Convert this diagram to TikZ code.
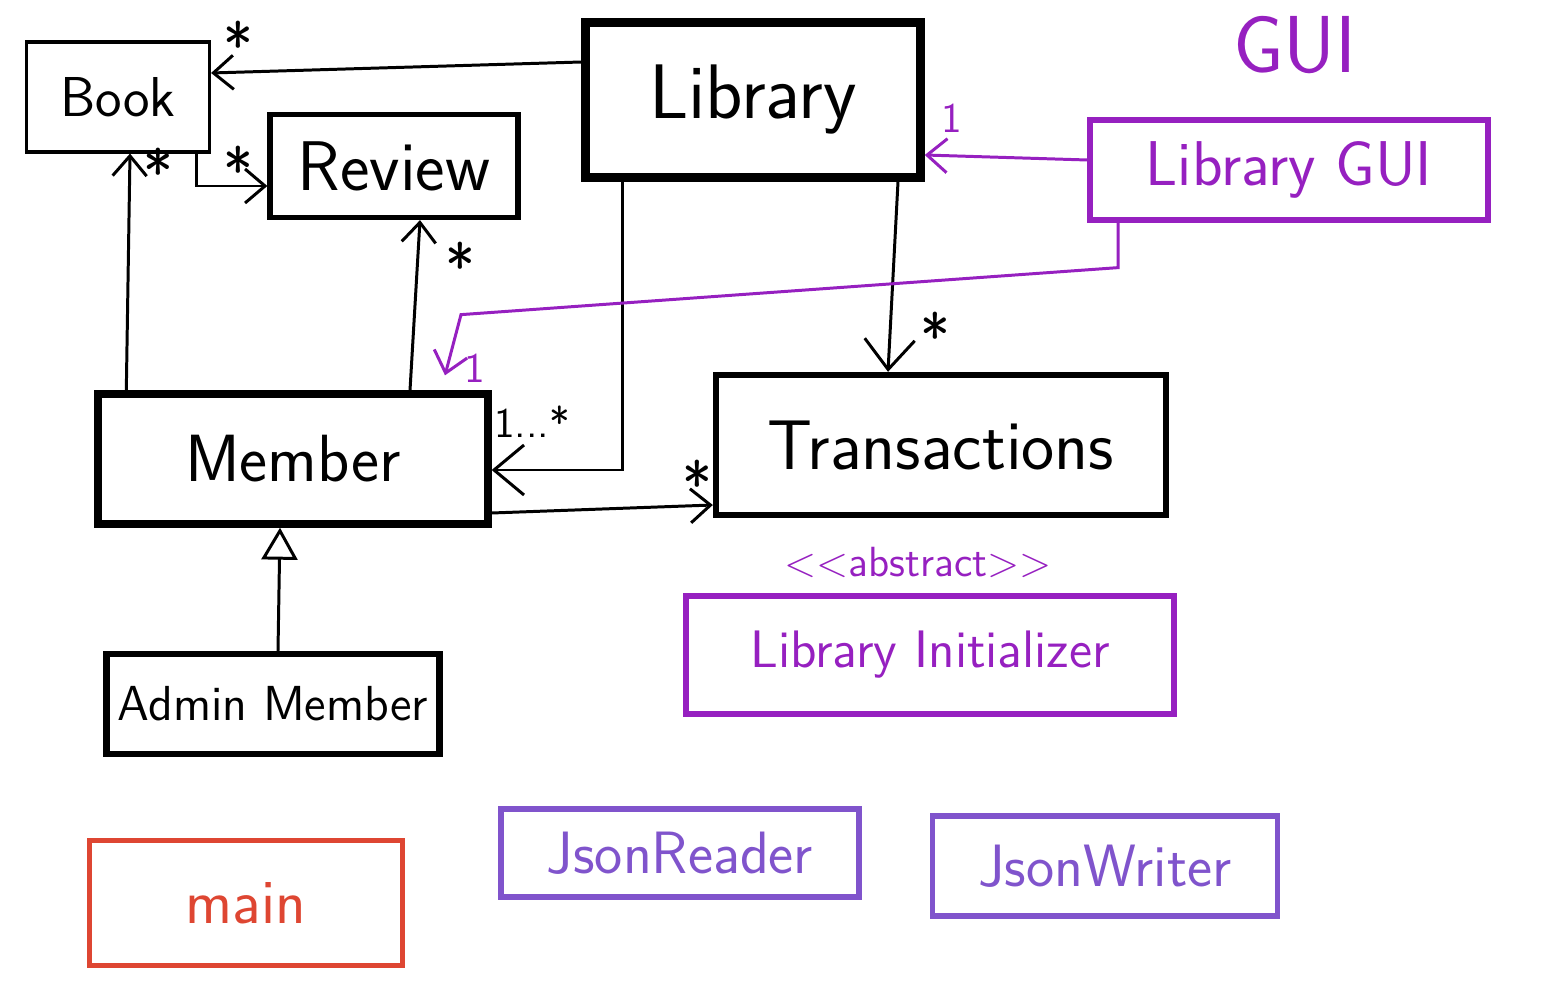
\documentclass[tikz,border=0pt]{standalone}
\usepackage{fontspec}
\usepackage{tikz}
\usetikzlibrary{arrows.meta}

\definecolor{guipurple}{RGB}{150,32,192}
\definecolor{jsonpurple}{RGB}{128,84,204}
\definecolor{mainred}{RGB}{222,70,50}

\begin{document}
\begin{tikzpicture}
[
>={Straight Barb[length=2mm,width=3.4mm]},
every node/.style={inner sep=0pt, font=\sffamily},
cls/.style={draw, line width=1.5pt},
mult/.style={font=\sffamily\fontsize{18}{20}\selectfont},
link/.style={->, line width=0.85pt},
biglink/.style={-{Straight Barb[length=3mm,width=5mm]}, line width=0.85pt}
]
\useasboundingbox (0,0) rectangle (15.62,-9.82);

\node[cls, line width=0.9pt, minimum width=1.83cm, minimum height=1.1cm,
  font=\sffamily\fontsize{16}{18}\selectfont] (book) at (1.18,-0.97) {Book};
\node[cls, minimum width=2.48cm, minimum height=1.03cm,
  font=\sffamily\fontsize{20}{24}\selectfont] (review) at (3.94,-1.66) {Review};
\node[cls, line width=2.4pt, minimum width=3.35cm, minimum height=1.55cm,
  font=\sffamily\fontsize{22}{26}\selectfont] (library) at (7.53,-1.00) {Library};
\node[cls, guipurple, minimum width=3.98cm, minimum height=1.0cm,
  font=\sffamily\fontsize{18}{22}\selectfont] (libgui) at (12.89,-1.70) {Library GUI};
\node[guipurple, font=\sffamily\fontsize{23}{26}\selectfont] (gui) at (12.95,-0.45) {GUI};
\node[cls, line width=2.1pt, minimum width=3.9cm, minimum height=1.3cm,
  font=\sffamily\fontsize{19}{22}\selectfont] (member) at (2.93,-4.59) {Member};
\node[cls, line width=1.8pt, minimum width=4.5cm, minimum height=1.4cm,
  font=\sffamily\fontsize{20}{24}\selectfont] (trans) at (9.41,-4.45) {Transactions};
\node[cls, line width=1.8pt, minimum width=3.33cm, minimum height=1.0cm,
  font=\sffamily\fontsize{14}{17}\selectfont] (admin) at (2.73,-7.04) {Admin Member};
\node[guipurple, font=\sffamily\fontsize{12}{14}\selectfont] (abstr) at (9.18,-5.62)
  {<{}<abstract>{}>};
\node[cls, guipurple, line width=1.8pt, minimum width=4.88cm, minimum height=1.18cm,
  font=\sffamily\fontsize{15}{18}\selectfont] (init) at (9.30,-6.55) {Library Initializer};
\node[cls, mainred, line width=1.2pt, minimum width=3.13cm, minimum height=1.25cm,
  font=\sffamily\fontsize{18}{22}\selectfont] (main) at (2.46,-9.03) {main};
\node[cls, jsonpurple, minimum width=3.58cm, minimum height=0.88cm,
  font=\sffamily\fontsize{17}{20}\selectfont] (jreader) at (6.80,-8.53) {JsonReader};
\node[cls, jsonpurple, minimum width=3.45cm, minimum height=1.0cm,
  font=\sffamily\fontsize{17}{20}\selectfont] (jwriter) at (11.05,-8.66) {JsonWriter};

\draw[link] ([yshift=3.8mm]library.west) -- ([yshift=2.4mm]book.east);
\draw[link] ([xshift=-1.5mm]book.south east) |- ([yshift=-2mm]review.west);
\draw[link] ([xshift=3.2mm]member.north west) -- ([xshift=1.2mm]book.south);
\draw[link] ([xshift=11.7mm]member.north) -- ([xshift=2.6mm]review.south);
\draw[biglink] ([xshift=-13.1mm]library.south) |- ([yshift=-1.1mm]member.east);
\draw[biglink] ([xshift=14.5mm]library.south) -- ([xshift=-5.3mm]trans.north);
\draw[link] ([yshift=-5.4mm]member.east) -- ([yshift=-6mm]trans.west);
\draw[link, guipurple] ([yshift=1mm]libgui.west) -- ([yshift=-5.5mm]library.east);
\draw[link, guipurple] ([xshift=-17.1mm]libgui.south) -- ++(0,-0.45)
  -- ++(-6.57,-0.47) -- ([xshift=15.2mm,yshift=1.5mm]member.north);
\draw[line width=0.85pt, -{Triangle[open,length=3.2mm,width=3.6mm]}]
  ([xshift=0.5mm]admin.north) -- ([xshift=-1.3mm]member.south);

\node[mult] (m1) at (2.38,-0.45) {*};
\node[mult] (m2) at (2.38,-1.70) {*};
\node[mult] (m3) at (1.58,-1.72) {*};
\node[mult] (m4) at (4.60,-2.66) {*};
\node[mult, font=\sffamily\fontsize{12}{14}\selectfont] (m5) at (5.32,-4.22) {1...*};
\node[mult] (m6) at (9.35,-3.36) {*};
\node[mult] (m7) at (6.97,-4.84) {*};
\node[mult, guipurple, font=\sffamily\fontsize{12}{14}\selectfont] (m8) at (9.52,-1.18) {1};
\node[mult, guipurple, font=\sffamily\fontsize{12}{14}\selectfont] (m9) at (4.75,-3.68) {1};
\end{tikzpicture}
\end{document}
